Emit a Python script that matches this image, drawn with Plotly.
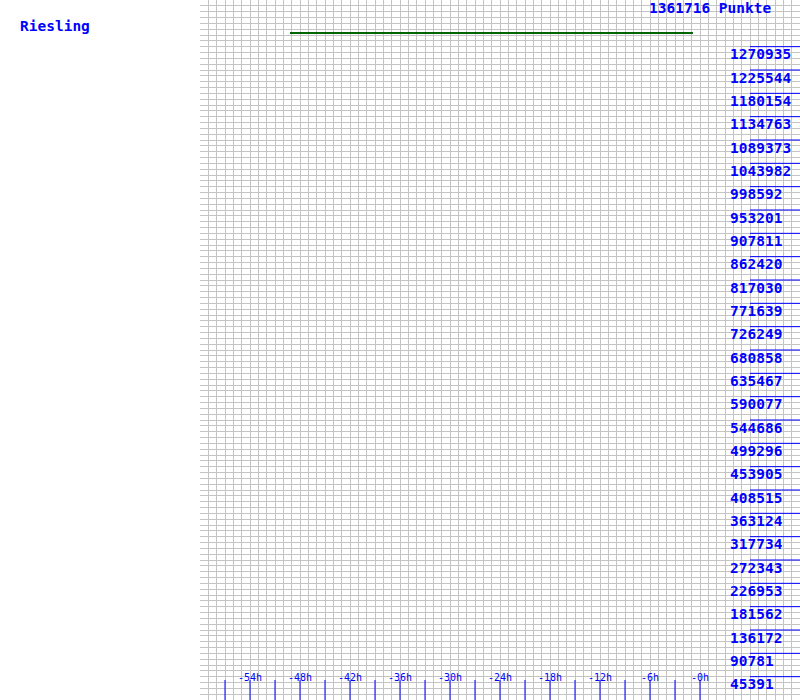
import plotly.graph_objects as go

title_text = "Riesling"
score_text = "1361716 Punkte"
y_max = 1361716
y_tick_values = [45391, 90781, 136172, 181562, 226953, 272343, 317734, 363124,
                 408515, 453905, 499296, 544686, 590077, 635467, 680858, 726249,
                 771639, 817030, 862420, 907811, 953201, 998592, 1043982,
                 1089373, 1134763, 1180154, 1225544, 1270935]
x_tick_marks = [-57, -54, -51, -48, -45, -42, -39, -36, -33, -30, -27, -24,
                -21, -18, -15, -12, -9, -6, -3, 0]
x_label_hours = [-54, -48, -42, -36, -30, -24, -18, -12, -6, 0]
x_label_texts = ["-54h", "-48h", "-42h", "-36h", "-30h", "-24h", "-18h",
                 "-12h", "-6h", "-0h"]
series_hours = [-49.2, -40, -30, -20, -10, -0.85]
series_points = [1297550, 1297550, 1297550, 1297550, 1297550, 1297550]

BLUE = "#0000ff"
GRID = "#c4c4c4"
FONT = "DejaVu Sans Mono"

fig = go.Figure()
fig.add_trace(go.Scatter(x=series_hours, y=series_points, mode="lines",
                         line=dict(color="#006400", width=2), hoverinfo="skip",
                         showlegend=False))

fig.update_layout(
    width=800, height=700, margin=dict(l=0, r=0, t=0, b=0),
    paper_bgcolor="white", plot_bgcolor="white", showlegend=False,
    xaxis=dict(domain=[0.25, 1], range=[-60, 12], dtick=1, tick0=0,
               showgrid=True, gridcolor=GRID, gridwidth=1, zeroline=False,
               showticklabels=False, ticks="", showline=False, fixedrange=True),
    yaxis=dict(domain=[0, 1], range=[0, y_max], dtick=y_max / 120, tick0=0,
               showgrid=True, gridcolor=GRID, gridwidth=1, zeroline=False,
               showticklabels=False, ticks="", showline=False, fixedrange=True),
)

big = dict(family=FONT, size=14.5, color=BLUE, weight="bold")
shapes = []
annotations = []
for v in y_tick_values:
    shapes.append(dict(type="line", xref="paper", yref="y", x0=750 / 800, x1=1,
                       y0=v, y1=v, line=dict(color=BLUE, width=1)))
    annotations.append(dict(x=728 / 800, xref="paper", y=v, yref="y",
                            xanchor="left", yanchor="middle", yshift=-7.5,
                            text=str(v), showarrow=False, font=big))
for h in x_tick_marks:
    shapes.append(dict(type="line", xref="x", yref="paper", x0=h, x1=h,
                       y0=0, y1=20 / 700, line=dict(color=BLUE, width=1)))
for h, t in zip(x_label_hours, x_label_texts):
    annotations.append(dict(x=h, xref="x", y=1 - 677 / 700, yref="paper",
                            xanchor="center", yanchor="middle", text=t,
                            showarrow=False,
                            font=dict(family=FONT, size=10, color=BLUE)))
annotations.append(dict(x=18 / 800, xref="paper", y=1 - 26.5 / 700, yref="paper",
                        xanchor="left", yanchor="middle", text=title_text,
                        showarrow=False, font=big))
annotations.append(dict(x=647 / 800, xref="paper", y=1, yref="paper",
                        xanchor="left", yanchor="top", yshift=2.5,
                        text=score_text, showarrow=False, font=big))
fig.update_layout(shapes=shapes, annotations=annotations)

fig.write_html("out.html")
